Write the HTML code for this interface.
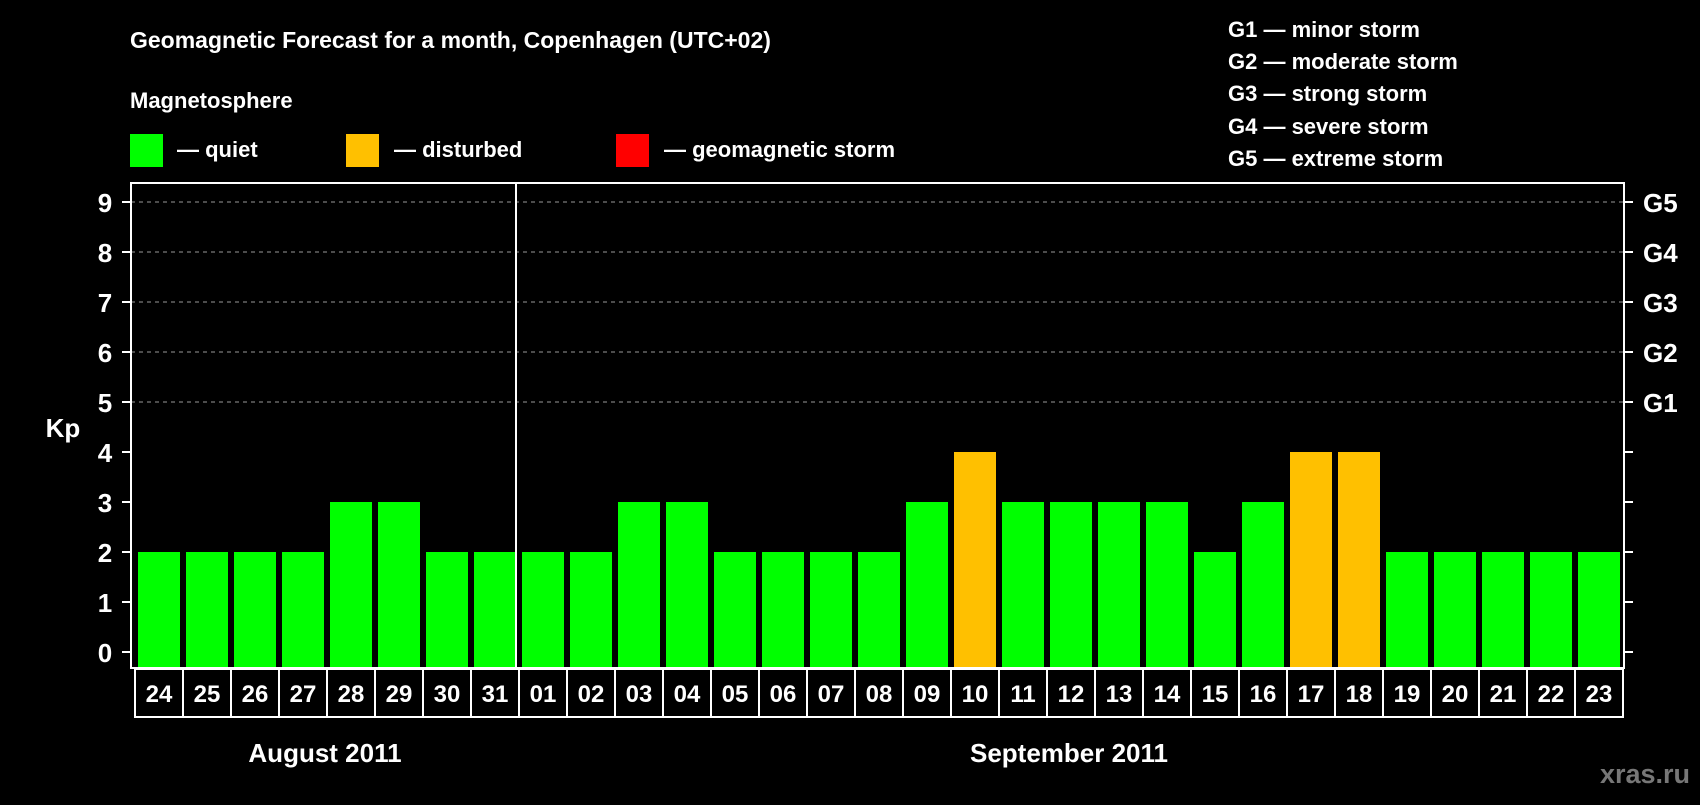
<!DOCTYPE html>
<html><head><meta charset="utf-8"><style>
html,body{margin:0;padding:0;background:#000;}
svg text{font-family:"Liberation Sans",Arial,sans-serif;font-weight:bold;fill:#fff;}
</style></head><body>
<svg id="chart" width="1700" height="800" xmlns="http://www.w3.org/2000/svg">
<rect width="1700" height="800" fill="#000"/>
<text x="130" y="48" font-size="23">Geomagnetic Forecast for a month, Copenhagen (UTC+02)</text>
<text x="130" y="108" font-size="22">Magnetosphere</text>
<rect x="130" y="134" width="33" height="33" fill="#00ff00"/>
<text x="177" y="157" font-size="22">— quiet</text>
<rect x="346" y="134" width="33" height="33" fill="#ffc000"/>
<text x="394" y="157" font-size="22">— disturbed</text>
<rect x="616" y="134" width="33" height="33" fill="#ff0000"/>
<text x="664" y="157" font-size="22">— geomagnetic storm</text>
<g font-size="22">
<text x="1228" y="37">G1 — minor storm</text>
<text x="1228" y="69">G2 — moderate storm</text>
<text x="1228" y="101">G3 — strong storm</text>
<text x="1228" y="134">G4 — severe storm</text>
<text x="1228" y="166">G5 — extreme storm</text>
</g>
<text x="63" y="437" font-size="26" text-anchor="middle">Kp</text>
<text x="325" y="762" font-size="26" text-anchor="middle">August 2011</text>
<text x="1069" y="762" font-size="26" text-anchor="middle">September 2011</text>
<text x="1690" y="783" font-size="27" text-anchor="end" style="fill:#777">xras.ru</text>
<g id="plot"></g>
</svg>
<script>
const days = ["24","25","26","27","28","29","30","31","01","02","03","04","05","06","07","08","09","10","11","12","13","14","15","16","17","18","19","20","21","22","23"];
const kpValues = [2,2,2,2,3,3,2,2,2,2,3,3,2,2,2,2,3,4,3,3,3,3,2,3,4,4,2,2,2,2,2];
const yTicks = [0,1,2,3,4,5,6,7,8,9];
const gLabels = ["G1","G2","G3","G4","G5"];
const monthSplitIndex = 8;

const NS = "http://www.w3.org/2000/svg";
const plot = document.getElementById("plot");
const L = 131, R = 1624, T = 183, B = 668;
const cellX0 = 135, slot = 48, barW = 42, barOff = 3;
const y = v => 652 - v * 50;
const x = i => cellX0 + i * slot;
function mk(tag, attrs) { const e = document.createElementNS(NS, tag); for (const k in attrs) e.setAttribute(k, attrs[k]); plot.appendChild(e); return e; }
function color(v) { return v >= 5 ? "#ff0000" : v >= 4 ? "#ffc000" : "#00ff00"; }

yTicks.forEach(t => {
  if (t >= 5) {
    const g = mk("line", {x1: L, x2: R, y1: y(t), y2: y(t), stroke: "#999", "stroke-width": 1, "stroke-dasharray": "4,4"});
    
    
  }
  const tl = mk("line", {x1: L - 9, x2: L, y1: y(t), y2: y(t), stroke: "#fff", "stroke-width": 2});
  
  
  const tr = mk("line", {x1: R, x2: R + 9, y1: y(t), y2: y(t), stroke: "#fff", "stroke-width": 2});
  
  
  const lb = mk("text", {x: 105, y: y(t) + 10, "font-size": 26, "text-anchor": "middle"});
  lb.textContent = t;
  
  
});
gLabels.forEach((g, i) => {
  const lb = mk("text", {x: 1643, y: y(5 + i) + 10, "font-size": 26});
  lb.textContent = g;
  
  
});
kpValues.forEach((v, i) => {
  const b = mk("rect", {x: x(i) + barOff, y: y(v), width: barW, height: B - y(v), fill: color(v)});
  
  
});
const fr = mk("rect", {x: L, y: T, width: R - L, height: B - T, fill: "none", stroke: "#fff", "stroke-width": 2});


const dv = mk("line", {x1: x(monthSplitIndex) - 3, x2: x(monthSplitIndex) - 3, y1: T, y2: B, stroke: "#fff", "stroke-width": 2});


days.forEach((d, i) => {
  const c = mk("rect", {x: x(i), y: 669, width: slot, height: 48, fill: "none", stroke: "#fff", "stroke-width": 2});
  
  
  const t = mk("text", {x: x(i) + slot / 2, y: 702, "font-size": 24, "text-anchor": "middle"});
  t.textContent = d;
  
  
});
</script>
</body></html>
